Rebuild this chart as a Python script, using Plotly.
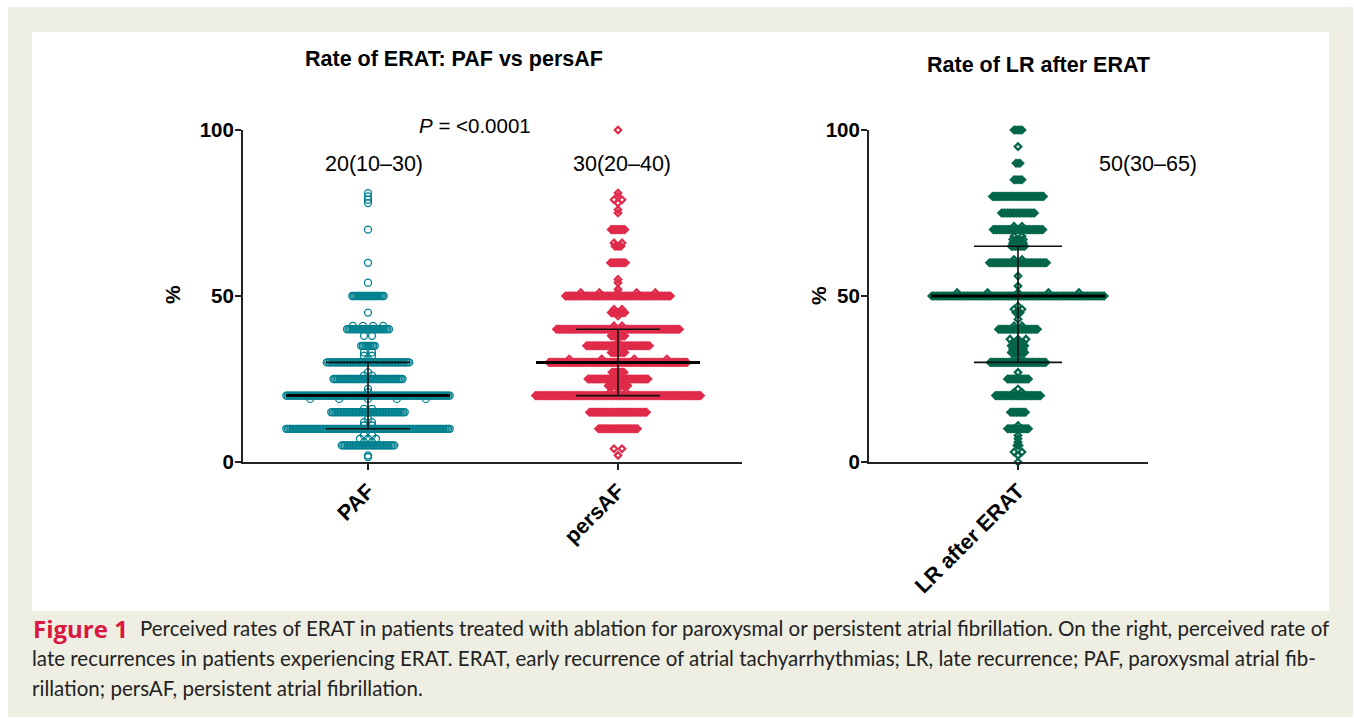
import plotly.graph_objects as go

W, H = 1354, 718
FONT = "Liberation Sans"

# ---------- data: percentage value and number of responses at that value ----------
paf_values = [1.5, 2, 5, 6, 7, 8, 10, 11, 12, 13, 15, 16, 19, 20, 21, 22, 25, 26, 27, 30, 31, 32, 33,
              35, 38, 40, 41, 45, 50, 54, 60, 70, 78, 79, 80, 81]
paf_counts = [1, 1, 36, 2, 3, 2, 110, 2, 2, 1, 50, 2, 5, 110, 1, 1, 47, 2, 1, 56, 1, 2, 2,
              10, 2, 29, 4, 1, 22, 1, 1, 1, 1, 1, 1, 1]
pers_values = [2, 4, 10, 15, 20, 21, 23, 25, 27, 30, 31, 33, 35, 36, 38, 40, 41, 44, 45, 46, 50, 51, 52,
               54, 55, 60, 65, 66, 70, 75, 76, 78, 79, 80, 81, 100]
pers_counts = [1, 2, 27, 39, 111, 3, 14, 41, 9, 93, 4, 10, 43, 1, 10, 83, 2, 1, 10, 2, 71, 5, 1,
               1, 1, 11, 4, 2, 10, 1, 1, 1, 2, 1, 1, 1]
lr_values = [0, 2, 3, 5, 6, 7, 8, 10, 11, 15, 20, 21, 22, 25, 27, 30, 31, 33, 34, 35, 36, 37, 40, 41,
             43, 45, 46, 47, 50, 51, 53, 56, 60, 61, 65, 66, 67, 68, 70, 71, 75, 80, 85, 90, 95, 100]
lr_counts = [1, 1, 2, 2, 1, 1, 1, 15, 1, 11, 31, 2, 1, 15, 1, 38, 2, 10, 8, 10, 6, 3, 27, 2,
             1, 3, 2, 1, 116, 5, 1, 1, 39, 2, 10, 5, 4, 2, 34, 2, 23, 35, 5, 3, 1, 5]

medians = [20, 30, 50]
q1s = [10, 20, 30]
q3s = [30, 40, 65]
x_labels = ["PAF", "persAF", "LR after ERAT"]
y_ticks = [0, 50, 100]
summaries = ["20(10–30)", "30(20–40)", "50(30–65)"]
p_label = "<i>P</i> = <0.0001"
titles = ["Rate of ERAT: PAF vs persAF", "Rate of LR after ERAT"]
caption_head = "Figure 1"
caption_lines = [
    "Perceived rates of ERAT in patients treated with ablation for paroxysmal or persistent atrial fibrillation. On the right, perceived rate of",
    "late recurrences in patients experiencing ERAT. ERAT, early recurrence of atrial tachyarrhythmias; LR, late recurrence; PAF, paroxysmal atrial fib-",
    "rillation; persAF, persistent atrial fibrillation.",
]

# ---------- styling ----------
TEAL, RED, GREEN = "#00808f", "#e02b4a", "#03664a"
BEIGE, CRIMSON, INK = "#eeeee2", "#d9173f", "#222222"
PX_PER_UNIT = 250.0
STEP = 1.5 / PX_PER_UNIT     # horizontal spacing in a dense swarm row
GAP = 8 / PX_PER_UNIT        # spacing in a sparse row


def swarm(center, values, counts):
    """Expand value/count rows to swarm points, centred on a category."""
    rows = dict(zip(values, counts))
    round_vals = [v for v in values if v % 5 == 0 and rows[v] >= 8]
    xs, ys = [], []
    for v, n in zip(values, counts):
        if n >= 8:
            gap = STEP
        elif v % 5 == 0:
            gap = 2 / PX_PER_UNIT
        elif n >= 4:
            near = min(round_vals, key=lambda r: abs(r - v))
            gap = 0.7 * rows[near] * STEP / (n - 1)
        else:
            gap = GAP
        for i in range(n):
            xs.append(center + (i - (n - 1) / 2) * gap)
            ys.append(v)
    return xs, ys


def px(x):
    return x / W


def py(y):
    return 1 - y / H


fig = go.Figure()

series = [
    (0, paf_values, paf_counts, TEAL, "circle-open", 7, 1.3, "x", "y", 82, 42),
    (1, pers_values, pers_counts, RED, "diamond-open", 5, 2.2, "x", "y", 82, 42),
    (0, lr_values, lr_counts, GREEN, "diamond-open", 5, 2.2, "x2", "y2", 87, 44),
]
for k, (c, vals, cnts, col, sym, size, lw, xa, ya, med_hw, q_hw) in enumerate(series):
    xs, ys = swarm(c, vals, cnts)
    fig.add_trace(go.Scatter(x=xs, y=ys, mode="markers", xaxis=xa, yaxis=ya, cliponaxis=False,
                             showlegend=False, hoverinfo="skip",
                             marker=dict(symbol=sym, size=size, color=col, line=dict(color=col, width=lw))))
    mh, qh = med_hw / PX_PER_UNIT, q_hw / PX_PER_UNIT
    fig.add_trace(go.Scatter(x=[c - mh, c + mh], y=[medians[k]] * 2, mode="lines", xaxis=xa, yaxis=ya,
                             showlegend=False, hoverinfo="skip", line=dict(color="black", width=3)))
    for q in (q1s[k], q3s[k]):
        fig.add_trace(go.Scatter(x=[c - qh, c + qh], y=[q, q], mode="lines", xaxis=xa, yaxis=ya,
                                 showlegend=False, hoverinfo="skip", line=dict(color="#111111", width=1.6)))
    fig.add_trace(go.Scatter(x=[c, c], y=[q1s[k], q3s[k]], mode="lines", xaxis=xa, yaxis=ya,
                             showlegend=False, hoverinfo="skip", line=dict(color="#111111", width=1.6)))

tick_font = dict(family=FONT, size=20.5, color="black", weight="bold")
xtick_font = dict(family=FONT, size=21.5, color="black", weight="bold")
yaxis_common = dict(range=[0, 100], tickvals=y_ticks, ticks="outside", ticklen=6, tickwidth=2,
                    showline=True, linewidth=2, linecolor="#222222", showgrid=False, zeroline=False,
                    tickfont=tick_font, tickcolor="#222222", automargin=False, ticklabelstandoff=-3)
xaxis_common = dict(ticks="outside", ticklen=6, tickwidth=2, showline=True, linewidth=2, linecolor="#222222",
                    showgrid=False, zeroline=False, tickfont=xtick_font, tickangle=-45, tickcolor="#222222",
                    automargin=False)

fig.update_layout(
    width=W, height=H, margin=dict(l=0, r=0, t=0, b=0, autoexpand=False), autosize=False,
    paper_bgcolor="white", plot_bgcolor="rgba(0,0,0,0)",
    xaxis=dict(domain=[px(243), px(742)], range=[-125 / PX_PER_UNIT, 1 + 124 / PX_PER_UNIT],
               tickvals=[0, 1], ticktext=x_labels[:2], **xaxis_common),
    xaxis2=dict(domain=[px(869), px(1148)], range=[-149 / PX_PER_UNIT, 130 / PX_PER_UNIT],
                tickvals=[0], ticktext=x_labels[2:], anchor="y2", **xaxis_common),
    yaxis=dict(domain=[py(462), py(130)], **yaxis_common),
    yaxis2=dict(domain=[py(462), py(130)], anchor="x2", **yaxis_common),
    shapes=[
        dict(type="rect", xref="paper", yref="paper", x0=px(8), x1=px(1353), y0=py(717), y1=py(7),
             fillcolor=BEIGE, line_width=0, layer="below"),
        dict(type="rect", xref="paper", yref="paper", x0=px(32), x1=px(1329), y0=py(611), y1=py(32),
             fillcolor="white", line_width=0, layer="below"),
    ],
)


def note(x, y, text, size=18, color="black", bold=False, family=FONT, anchor="center", angle=0):
    fig.add_annotation(xref="paper", yref="paper", x=px(x), y=py(y), text=text, showarrow=False,
                       xanchor=anchor, yanchor="middle", textangle=angle, borderpad=0,
                       font=dict(family=family, size=size, color=color, weight="bold" if bold else "normal"))


note(454, 59, titles[0], size=21.5, bold=True)
note(1038, 65, titles[1], size=21.5, bold=True)
note(475, 125, p_label, size=20.5)
note(374, 164, summaries[0], size=21.5)
note(622, 164, summaries[1], size=21.5)
note(1148, 164, summaries[2], size=21.5)
note(172, 295, "%", size=21, bold=True, angle=-90)
note(818, 295, "%", size=21, bold=True, angle=-90)

CAP = "Lato"
note(32, 628, caption_head, size=24, color=CRIMSON, bold=True, family="Open Sans", anchor="left")
note(139, 628, caption_lines[0], size=20.5, color=INK, family=CAP, anchor="left")
note(31, 658, caption_lines[1], size=20.5, color=INK, family=CAP, anchor="left")
note(31, 688, caption_lines[2], size=20.5, color=INK, family=CAP, anchor="left")

fig.write_html("out.html", config=dict(displayModeBar=False),
               post_script="document.body.style.margin='0';")
